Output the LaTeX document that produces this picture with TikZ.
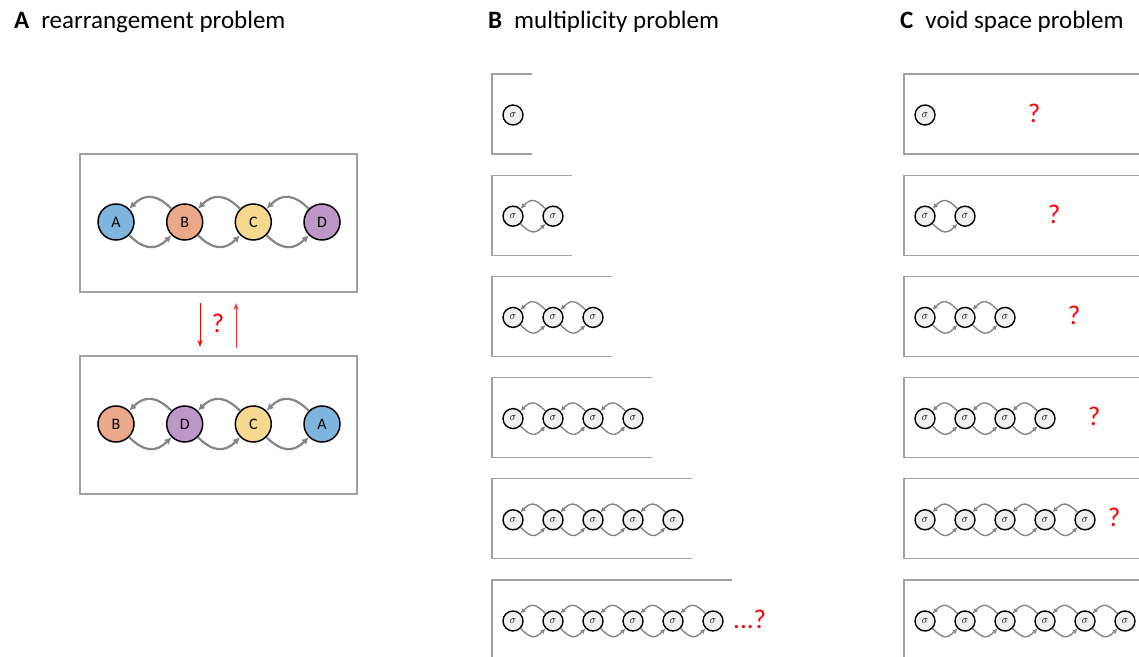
\documentclass[tikz,border=0pt]{standalone}
\usepackage{fontspec}
\setmainfont{Carlito}
\usetikzlibrary{arrows.meta}
\definecolor{cA}{HTML}{7EB5DE}
\definecolor{cB}{HTML}{EBA88A}
\definecolor{cC}{HTML}{F6D88E}
\definecolor{cD}{HTML}{BD97C6}
\definecolor{arcgray}{HTML}{858585}
\definecolor{boxgray}{HTML}{A0A0A0}
\definecolor{sigfill}{HTML}{F0F0F0}
\begin{document}
\begin{tikzpicture}[x=1pt,y=1pt,
 panel/.style={draw=boxgray, line width=1.1pt},
 big/.style={circle, draw=black, line width=1.5pt, minimum size=36pt, inner sep=0pt, font=\fontsize{16}{16}\selectfont},
 sig/.style={circle, draw=black, line width=1.4pt, fill=sigfill, minimum size=20pt, inner sep=0pt, font=\fontsize{11}{11}\selectfont},
 bigarc/.style={draw=arcgray, line width=2.2pt, -{Latex[length=7pt,width=7pt]}},
 sigarc/.style={draw=arcgray, line width=1.4pt, -{Latex[length=5pt,width=5pt]}},
 qm/.style={text=red, font=\fontsize{27}{27}\selectfont, inner sep=0pt},
 redarrow/.style={draw=red, line width=0.9pt, -{Stealth[length=7pt,width=5pt]}},
 title/.style={anchor=base west, inner sep=0pt, font=\fontsize{25}{25}\selectfont}]
\useasboundingbox (0,0) rectangle (1139,656);
\clip (0,0) rectangle (1139,656);

% titles
\node[title] (tA) at (14,627) {\textbf{A}\hspace{12pt}rearrangement problem};
\node[title] (tB) at (488,627) {\textbf{B}\hspace{12pt}multiplicity problem};
\node[title] (tC) at (900,627) {\textbf{C}\hspace{12pt}void space problem};

% panel A
\draw[panel] (80,364) rectangle (357,502);
\draw[panel] (80,162) rectangle (357,300);
\node[big, fill=cA] (a1) at (116,434) {A};
\node[big, fill=cB] (b1) at (184.7,434) {B};
\node[big, fill=cC] (c1) at (253.3,434) {C};
\node[big, fill=cD] (d1) at (322,434) {D};
\node[big, fill=cB] (b2) at (116,232) {B};
\node[big, fill=cD] (d2) at (184.7,232) {D};
\node[big, fill=cC] (c2) at (253.3,232) {C};
\node[big, fill=cA] (a2) at (322,232) {A};
\foreach \l/\r in {a1/b1,b1/c1,c1/d1,b2/d2,d2/c2,c2/a2}{
  \draw[bigarc] (\r.135) to[out=135,in=45,looseness=1.3] (\l.45);
  \draw[bigarc] (\l.-45) to[out=-45,in=-135,looseness=1.3] (\r.-135);
}
\coordinate (dn1) at (200,353);
\coordinate (dn2) at (200,309);
\coordinate (up1) at (236,308);
\coordinate (up2) at (236,353);
\draw[redarrow] (dn1) -- (dn2);
\draw[redarrow, draw=red!80] (up1) -- (up2);
\node[qm] (qA) at (218,333) {?};

% panels B and C
\foreach \i in {0,...,5}{
  \pgfmathsetmacro{\tp}{656-74-101.2*\i}
  \pgfmathsetmacro{\bt}{\tp-80}
  \pgfmathsetmacro{\rx}{532+40*\i}
  \pgfmathsetmacro{\ny}{\tp-41}
  \draw[panel] (\rx,\tp) -- (492,\tp) -- (492,\bt) -- (\rx,\bt);
  \draw[panel] (1150,\tp) -- (904,\tp) -- (904,\bt) -- (1150,\bt);
  \foreach \k in {0,...,\i}{
    \node[sig] (b\i-\k) at (513+40*\k,\ny) {$\sigma$};
    \node[sig] (c\i-\k) at (925+40*\k,\ny) {$\sigma$};
  }
  \ifnum\i>0
    \foreach \k in {1,...,\i}{
      \pgfmathtruncatemacro{\kp}{\k-1}
      \draw[sigarc] (b\i-\k.135) to[out=135,in=45,looseness=1.5] (b\i-\kp.45);
      \draw[sigarc] (b\i-\kp.-45) to[out=-45,in=-135,looseness=1.5] (b\i-\k.-135);
      \draw[sigarc] (c\i-\k.135) to[out=135,in=45,looseness=1.5] (c\i-\kp.45);
      \draw[sigarc] (c\i-\kp.-45) to[out=-45,in=-135,looseness=1.5] (c\i-\k.-135);
    }
  \fi
}
\foreach \i in {0,...,4}{
  \node[qm] (qc\i) at (1034+20*\i, 656-113-101.2*\i) {?};
}
\node[qm, anchor=west] (qB) at (733,37) {...?};
\end{tikzpicture}
\end{document}
